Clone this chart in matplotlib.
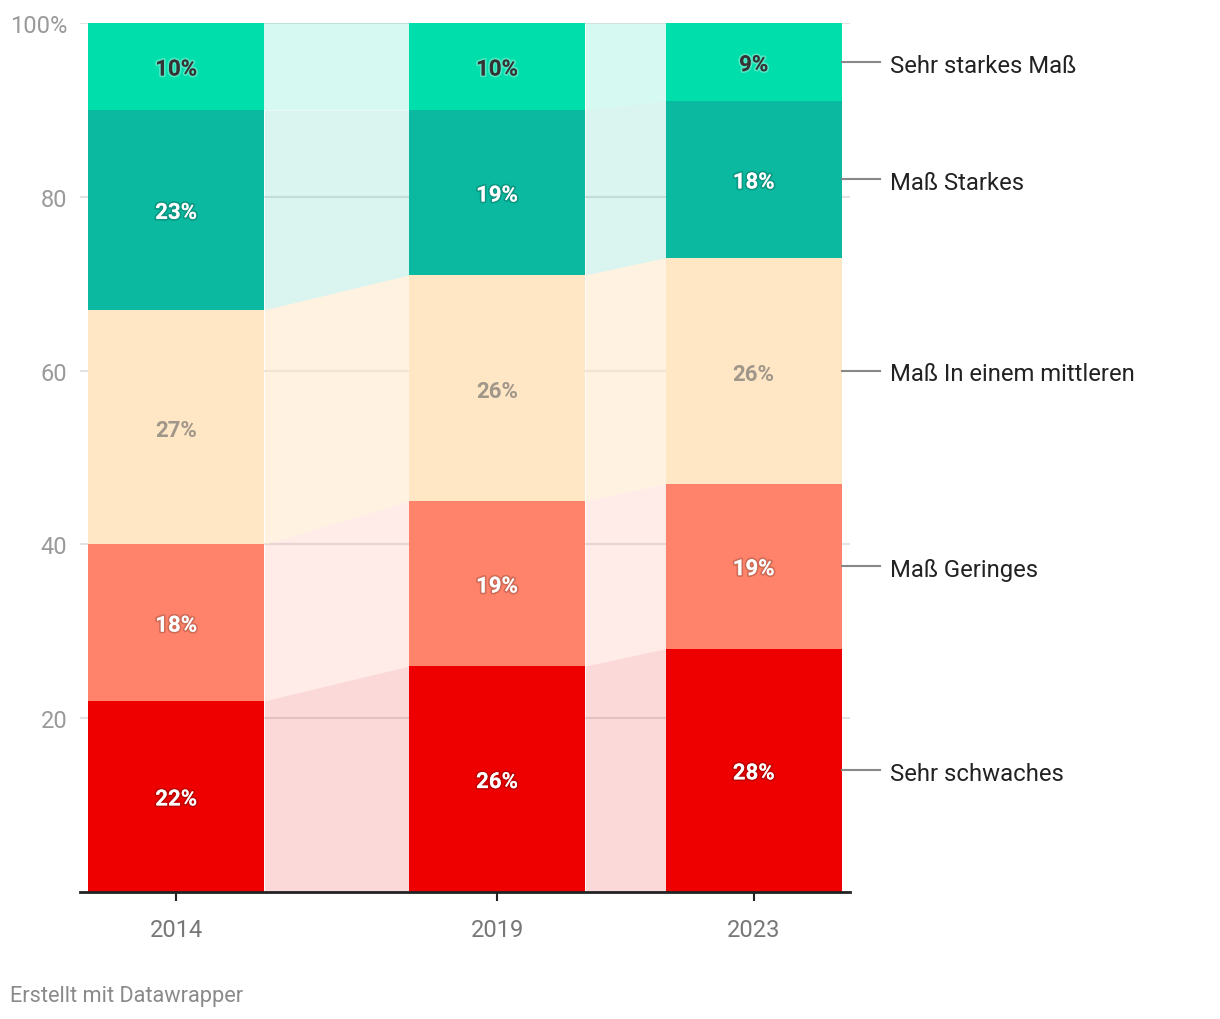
import numpy as np
import matplotlib.pyplot as plt
import matplotlib.patheffects as pe

plt.rcParams['font.family'] = ['Roboto', 'DejaVu Sans']

years = [2014, 2019, 2023]
categories = ['Sehr schwaches', 'Maß Geringes', 'Maß In einem mittleren',
              'Maß Starkes', 'Sehr starkes Maß']
values = {
    'Sehr schwaches': [22, 26, 28],
    'Maß Geringes': [18, 19, 19],
    'Maß In einem mittleren': [27, 26, 26],
    'Maß Starkes': [23, 19, 18],
    'Sehr starkes Maß': [10, 10, 9],
}
colors = ['#ee0000', '#ff836a', '#ffe6c4', '#0ab99f', '#00dfab']
link_alpha = [0.15, 0.16, 0.5, 0.15, 0.16]
label_style = ['white', 'white', 'mid', 'white', 'dark']

fig = plt.figure(figsize=(12.2, 10.2), dpi=100)
ax = fig.add_axes([80 / 1220, 1 - 893 / 1020, 770 / 1220, 869 / 1020])

w = 2.75
x = np.array(years, dtype=float)
bottom = np.zeros(len(years))
dy = -0.35  # small nudge so text sits like the original

for i, cat in enumerate(categories):
    v = np.array(values[cat], dtype=float)
    top = bottom + v
    ax.bar(x, v, width=w, bottom=bottom, color=colors[i], zorder=3, linewidth=0)
    # connecting bands between the bars
    for j in range(len(x) - 1):
        xs = [x[j] + w / 2, x[j + 1] - w / 2]
        ax.fill_between(xs, [bottom[j], bottom[j + 1]], [top[j], top[j + 1]],
                        color=colors[i], alpha=link_alpha[i], linewidth=0, zorder=2)
    for j in range(len(x)):
        st = label_style[i]
        if st == 'white':
            kw = dict(color='white', path_effects=[pe.withStroke(linewidth=2.5, foreground=(0, 0, 0, 0.18))])
        elif st == 'dark':
            kw = dict(color='#333333', path_effects=[pe.withStroke(linewidth=2.5, foreground=(1, 1, 1, 0.3))])
        else:
            kw = dict(color='#a0978a')
        ax.text(x[j], (bottom[j] + top[j]) / 2 + dy, f'{int(v[j])}%', ha='center', va='center',
                fontsize=16, fontweight='bold', zorder=5, **kw)
    # right side labels
    yc = (bottom[-1] + top[-1]) / 2
    ax.plot([x[-1] + w / 2, x[-1] + w / 2 + 0.6], [yc, yc], color='#888888', lw=1.5,
            clip_on=False, zorder=4)
    ax.text(x[-1] + w / 2 + 0.75, yc + dy, cat, ha='left', va='center', fontsize=17.2,
            color='#222222')
    bottom = top

ax.set_xlim(2012.5, 2024.5)
ax.set_ylim(0, 100)
ax.set_yticks([20, 40, 60, 80, 100])
ax.set_yticklabels(['20', '40', '60', '80', '100%'])
ax.grid(axis='y', color='#e3e3e3', lw=1.5, zorder=0)
ax.set_axisbelow(True)
ax.tick_params(axis='y', length=0, pad=9, labelsize=17, labelcolor='#9a9a9a')
ax.set_xticks(years)
ax.set_xticklabels([str(y) for y in years])
ax.tick_params(axis='x', length=6.5, width=1.5, color='#222222', pad=12,
               labelsize=17, labelcolor='#777777')
for s in ['left', 'right', 'top']:
    ax.spines[s].set_visible(False)
ax.spines['bottom'].set_color('#222222')
ax.spines['bottom'].set_linewidth(2)
ax.spines['bottom'].set_zorder(6)

fig.text(10 / 1220, 1 - 997 / 1020, 'Erstellt mit Datawrapper', ha='left', va='center',
         fontsize=15.7, color='#8a8a8a')

fig.savefig('out.png', dpi=100, facecolor='white')
